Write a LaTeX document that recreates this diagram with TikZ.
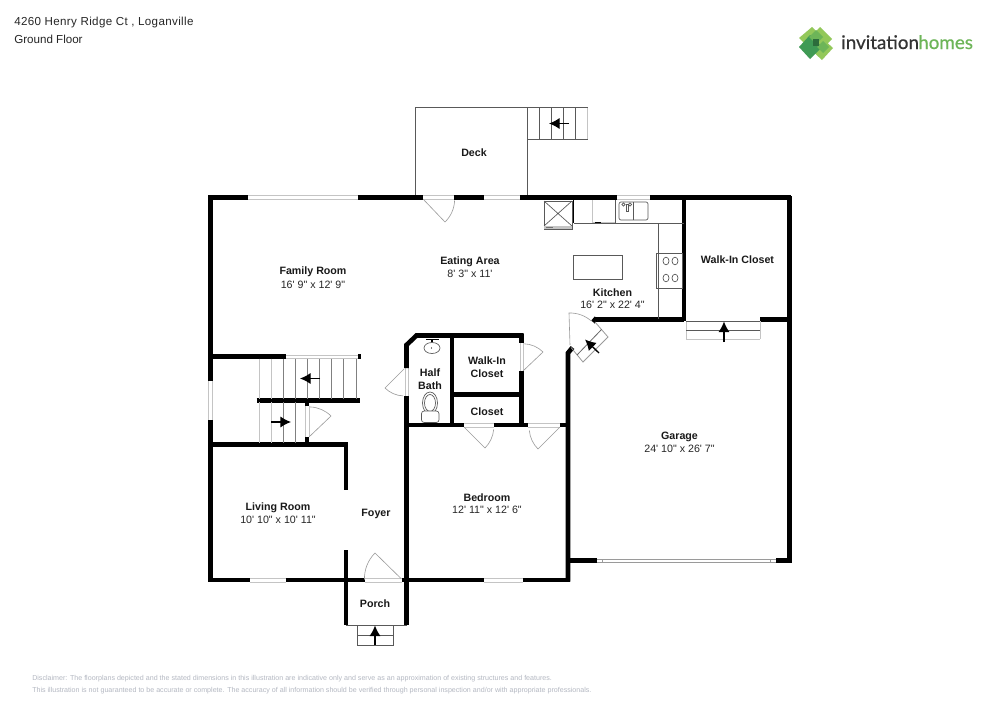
\documentclass[tikz,border=0pt]{standalone}
\usepackage{fontspec}
\newfontfamily\lab{Liberation Sans}
\newfontfamily\addrfont[LetterSpace=3]{Liberation Sans}
\newfontfamily\logofont[FakeBold=0.6]{Lato}
\definecolor{grayline}{HTML}{9A9A9A}
\definecolor{lightline}{HTML}{C4C4C4}
\definecolor{disc}{HTML}{B4B8C2}
\definecolor{lg}{HTML}{93C85A}
\definecolor{mg}{HTML}{6DB558}
\definecolor{dg}{HTML}{3F9A55}
\tikzset{
 wall/.style={line width=3.5pt,line cap=butt,line join=miter},
 thin/.style={line width=0.5pt,draw=black!65},
 pale/.style={line width=0.6pt,draw=lightline},
 swing/.style={line width=0.45pt,draw=grayline},
 winline/.style={line width=0.4pt,draw=lightline},
 flecha/.style={line width=1pt,-{Latex[length=8pt,width=8.5pt]}},
 rname/.style={font=\lab\bfseries\fontsize{8}{9}\selectfont,text=black!90,inner sep=0pt,align=center},
 rdim/.style={font=\lab\fontsize{8}{9}\selectfont,text=black!85,inner sep=0pt},
 head/.style={text=black!85,inner sep=0pt,anchor=west},
 disclaim/.style={font=\lab\fontsize{5.33}{6}\selectfont,text=disc,inner sep=0pt,anchor=west},
}
\usetikzlibrary{arrows.meta}
\begin{document}
\begin{tikzpicture}[x=0.75pt,y=-0.75pt]
\useasboundingbox (0,0) rectangle (1000,707);
\fill[white] (0,0) rectangle (1000,707);
% header
\node[head,font=\addrfont\fontsize{8.7}{10}\selectfont] (addr) at (14,22.5) {4260 Henry Ridge Ct , Loganville};
\node[head,font=\lab\fontsize{8.7}{10}\selectfont] (floor) at (14,39.5) {Ground Floor};
% logo
\fill[lg] (812,27) -- (823,38) -- (811,50) -- (799,38) -- cycle;
\fill[lg] (820,27) -- (832,39) -- (820,51) -- (809,39) -- cycle;
\fill[lg] (821,37) -- (833,48) -- (822,60) -- (809,48) -- cycle;
\fill[dg] (810,35) -- (822,47) -- (810,59) -- (799,47) -- cycle;
\fill[mg] (816,30) -- (823,37) -- (816,44) -- (809,37) -- cycle;
\fill[mg] (823,41) -- (829,47) -- (823,53) -- (817,47) -- cycle;
\fill[dg!70!black] (813,39) -- (819,39) -- (819,46) -- (813,46) -- cycle;
\node[font=\logofont\fontsize{14.1}{14}\selectfont,text=black!80,inner sep=0pt,anchor=base west] (logo1) at (841,49) {invitation};
\node[font=\logofont\fontsize{14.1}{14}\selectfont,text=mg,inner sep=0pt,anchor=base west] (logo2) at (918,49) {homes};
% deck
\draw[thin] (415.5,197) -- (415.5,107) -- (527.5,107) -- (527.5,197);
\draw[thin] (527.5,139) -- (587.5,139);
\draw[thin] (527.5,107.5) -- (587.5,107.5);
\foreach \x in {539.5,551.5,563.5,575.5} \draw[thin] (\x,107.5) -- (\x,139);
\draw[pale] (587.5,107.5) -- (587.5,139);
\draw[flecha] (569,123.5) -- (549,123.5);
% windows / thresholds
\foreach \a/\b in {248/358,423/454,484/520,617/650} {
 \draw[winline] (\a,195.5) -- (\b,195.5) (\a,199.5) -- (\b,199.5);
}
\foreach \a/\b in {250/286,365/402,484/523} {
 \draw[winline] (\a,578.5) -- (\b,578.5) (\a,582) -- (\b,582);
}
\draw[winline] (208.5,381) -- (208.5,420) (212.5,381) -- (212.5,420);
\draw[winline] (286,355) -- (358,355) (286,358.5) -- (358,358.5);
\foreach \a/\b in {464/494,528/560} \draw[winline] (\a,423.5) -- (\b,423.5) (\a,427) -- (\b,427);
\draw[winline] (404.8,368) -- (404.8,396) (408.5,368) -- (408.5,396);
\draw[winline] (520,343) -- (520,371) (523.5,343) -- (523.5,371);
\draw[winline] (305.5,406) -- (305.5,437) (309,406) -- (309,437);
\draw[grayline,line width=0.5pt] (597,559) -- (776,559) (597,562.5) -- (776,562.5);
\draw[grayline,line width=0.4pt] (602,559) -- (602,562.5) (770,559) -- (770,562.5);
% walls
\draw[wall] (208,197.5) -- (248,197.5) (358,197.5) -- (423,197.5) (454,197.5) -- (484,197.5) (520,197.5) -- (617,197.5) (650,197.5) -- (791,197.5);
\draw[wall] (210.5,196) -- (210.5,381) (210.5,420) -- (210.5,582);
\draw[wall] (210,356.5) -- (286,356.5);
\draw[wall] (358,356.5) -- (361,356.5);
\draw[wall] (256.5,400.5) -- (360,400.5);
\draw[wall] (307,400) -- (307,406) (307,437) -- (307,444);
\draw[wall] (210,444.5) -- (347.5,444.5);
\draw[wall] (346,443) -- (346,490);
\draw[wall] (346,550) -- (346,625);
\draw[wall] (208.5,580) -- (250,580) (286,580) -- (365,580) (402,580) -- (484,580) (523,580) -- (569.5,580);
\draw[wall] (406.5,396) -- (406.5,625);
\draw[wall] (406.5,368) -- (406.5,345) -- (416.5,335.5) -- (523.5,335.5);
\draw[wall] (452,335) -- (452,425);
\draw[wall] (521.7,334) -- (521.7,343) (521.7,371) -- (521.7,427);
\draw[wall] (452,394.5) -- (522,394.5);
\draw[wall] (405,425) -- (464,425) (494,425) -- (528,425) (560,425) -- (569.5,425);
\draw[wall] (684,196) -- (684,320.5);
\draw[wall] (789.5,196) -- (789.5,562.5);
\draw[wall] (595,319.5) -- (684,319.5) (760,319.5) -- (791,319.5);
\draw[wall] (593,322) -- (596.5,318);
\draw[wall] (568,581.5) -- (568,353) -- (572.5,347.5);
\draw[wall] (568,560.5) -- (597,560.5) (776,560.5) -- (791,560.5);
% porch
\draw[thin] (346,625) -- (406.5,625);
\draw[thin] (357,625) rectangle (393,645);
\draw[thin] (357,635) -- (393,635);
\draw[flecha] (375,645) -- (375,625.5);
% doors
\draw[swing] (423,199) -- (445,222) arc[start angle=46,end angle=2,radius=31.5];
\draw[swing] (464,427) -- (485,448) arc[start angle=45,end angle=5,radius=30];
\draw[swing] (560,427) -- (538,449) arc[start angle=135,end angle=175,radius=30];
\draw[swing] (404,369) -- (385,388) arc[start angle=135,end angle=92,radius=27];
\draw[swing] (523,371) -- (543,352) arc[start angle=-45,end angle=-88,radius=28];
\draw[swing] (309,437) -- (331,416) arc[start angle=-45,end angle=-88,radius=31];
\draw[swing] (401,578.5) -- (375,553) arc[start angle=225,end angle=178,radius=36];
\draw[swing] (570,345) -- (569,313) arc[start angle=-92,end angle=-48,radius=32];
% diagonal steps
\draw[pale,draw=grayline] (571,347.5) -- (583,362) -- (608,337) -- (595,322);
\draw[pale,draw=black!60] (577,355) -- (601.5,329.5);
\draw[flecha] (599,353) -- (585,339.5);
% walk-in closet steps
\draw[pale] (686,339) -- (760,339) (686,321) -- (686,339) (760,321) -- (760,339);
\draw[thin] (686,321.5) -- (760,321.5) (686,330) -- (760,330);
\draw[flecha] (724,342) -- (724,321.5);
% left stairs
\foreach \x in {259,271} \draw[pale] (\x,358.5) -- (\x,399);
\foreach \x in {283,295,307,319,331,343,356} \draw[line width=0.45pt,draw=black!50] (\x,358.5) -- (\x,399);
\foreach \x in {259,271} \draw[pale] (\x,402) -- (\x,443);
\foreach \x in {283,295} \draw[line width=0.45pt,draw=black!50] (\x,402) -- (\x,443);
\draw[flecha] (320,378.5) -- (300,378.5);
\draw[flecha] (271,422) -- (291,422);
% kitchen
\draw[thin] (544,201) rectangle (572,229);
\draw[thin] (544,201) -- (572,226) (572,201) -- (544,226);
\fill[lightline] (544,226) rectangle (572,229);
\fill[black!55] (546,227) rectangle (553,228.2);
\draw[line width=0.9pt] (573.5,200) -- (573.5,223);
\draw[thin] (573.5,223) -- (684,223);
\draw[pale] (592,200) -- (592,222);
\draw[pale] (592,222) -- (615.5,222);
\draw[thin] (615.5,200) -- (615.5,223);
\fill[black] (595,221.5) rectangle (601,223.2);
\draw[thin,rounded corners=1.5pt] (619,202) rectangle (648,220);
\draw[thin] (633,202) -- (633,220);
\draw[thin] (623.5,204.5) circle[radius=1.6] (630,204.5) circle[radius=1.6];
\draw[thin,fill=white] (626,204) rectangle (628,211);
\draw[thin] (658,223) -- (658,319);
\draw[thin] (656,253) rectangle (682,288);
\foreach \x/\y in {666/261,675/261,666/278,675/278} \draw[thin] (\x,\y) ellipse[x radius=3,y radius=3.8];
\draw[thin] (573,255) rectangle (622,279);
% half bath fixtures
\draw[thin] (432,348) ellipse[x radius=8,y radius=5.5];
\fill[black] (431.5,348) circle[radius=0.6];
\draw[line width=1.2pt] (426,339.5) -- (439,339.5);
\draw[line width=1.2pt] (432,339.5) -- (432,342);
\draw[thin] (430,403) ellipse[x radius=7.5,y radius=11];
\draw[thin] (430,403) ellipse[x radius=5.5,y radius=8.5];
\draw[thin,fill=white,rounded corners=2pt] (421.5,411) rectangle (439,422.5);
% labels
\node[rname] (deck) at (474,153) {Deck};
\node[rname] (family) at (313,272) {Family Room};
\node[rdim] (familyd) at (313,284.5) {16' 9" x 12' 9"};
\node[rname] (eating) at (470,262) {Eating Area};
\node[rdim] (eatingd) at (470,273.5) {8' 3" x 11'};
\node[rname] (kitchen) at (612.5,293) {Kitchen};
\node[rdim] (kitchend) at (612.5,304.5) {16' 2" x 22' 4"};
\node[rname] (wic) at (737.5,260) {Walk-In Closet};
\node[rname] (garage) at (679.5,437) {Garage};
\node[rdim] (garaged) at (679.5,449) {24' 10" x 26' 7"};
\node[rname] (half) at (430,373) {Half};
\node[rname] (bath) at (430,386) {Bath};
\node[rname] (wic2) at (487,361) {Walk-In};
\node[rname] (wic3) at (487,373.5) {Closet};
\node[rname] (closet) at (487,411.5) {Closet};
\node[rname] (bedroom) at (487,498) {Bedroom};
\node[rdim] (bedroomd) at (487,510) {12' 11" x 12' 6"};
\node[rname] (living) at (278,508) {Living Room};
\node[rdim] (livingd) at (278,520) {10' 10" x 10' 11"};
\node[rname] (foyer) at (376,514) {Foyer};
\node[rname] (porch) at (375,604) {Porch};
% disclaimer
\node[disclaim] (d1) at (32,678.5) {Disclaimer: The floorplans depicted and the stated dimensions in this illustration are indicative only and serve as an approximation of existing structures and features.};
\node[disclaim] (d2) at (32,690.5) {This illustration is not guaranteed to be accurate or complete. The accuracy of all information should be verified through personal inspection and/or with appropriate professionals.};
\end{tikzpicture}
\end{document}
